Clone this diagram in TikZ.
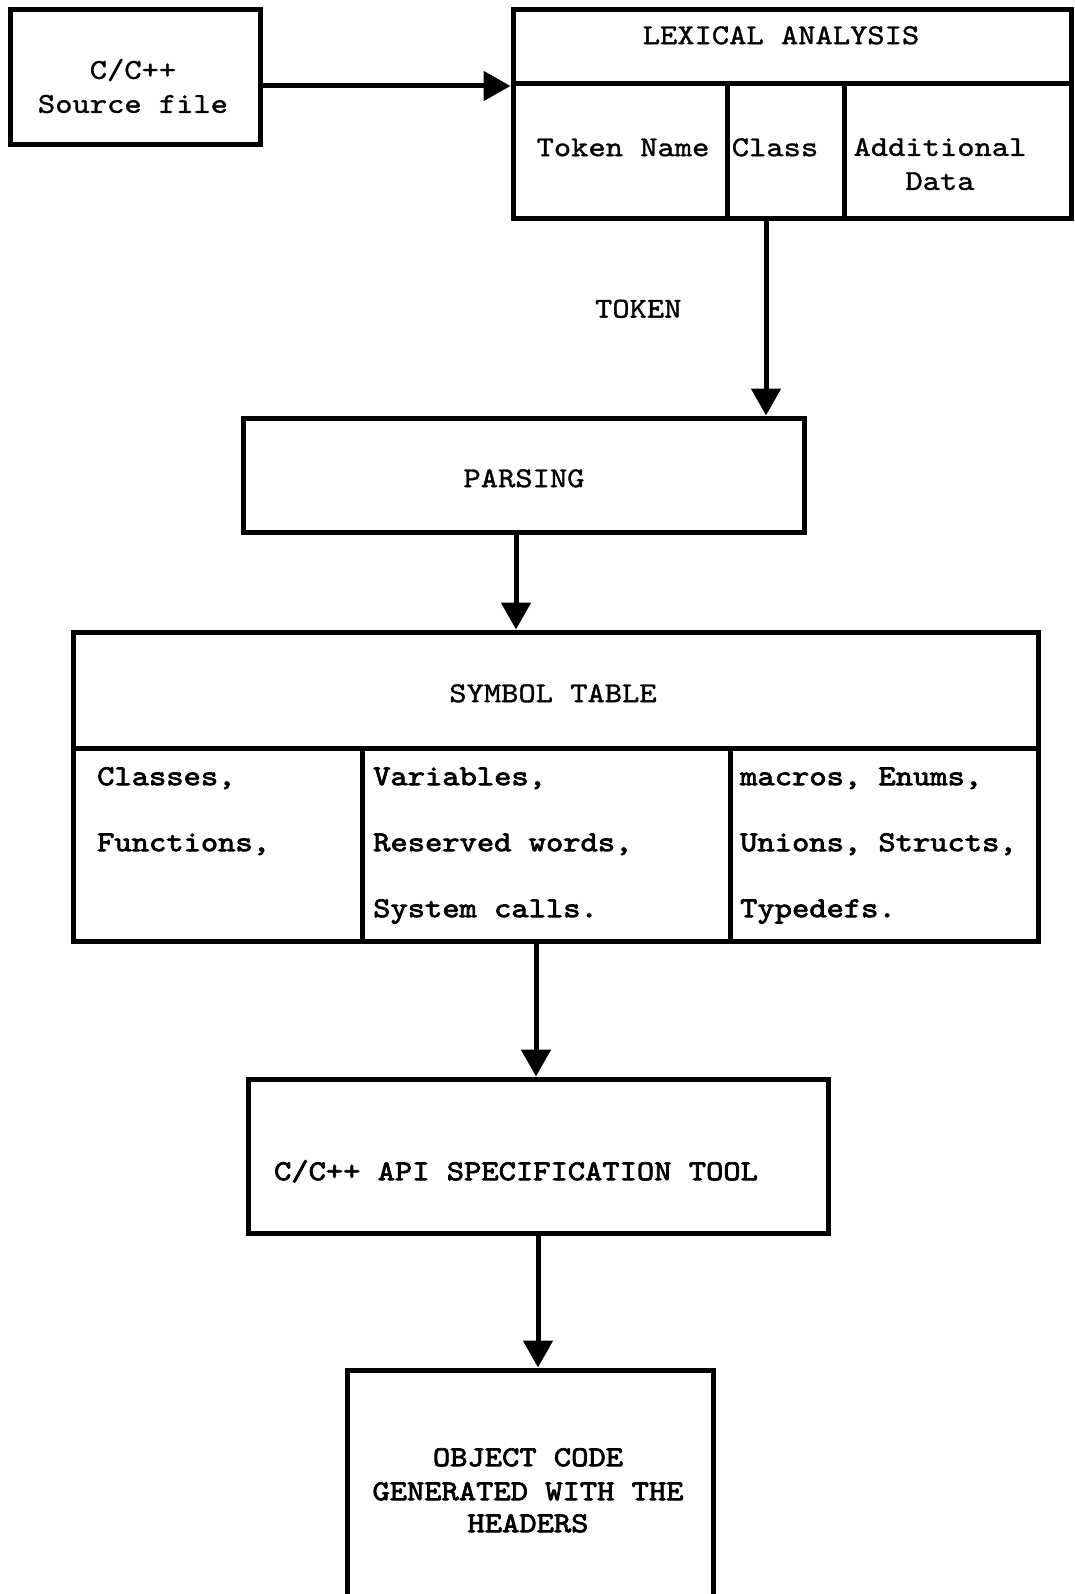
\documentclass[tikz,border=0pt]{standalone}
\usepackage{fontspec}
% typewriter face, widened to Courier proportions
\newfontfamily\courreg[FakeStretch=1.143,FakeBold=1.2]{lmmono10-regular.otf}
\newfontfamily\courbold[FakeStretch=1.143,FakeBold=2.6]{lmmono10-regular.otf}
\usetikzlibrary{arrows.meta}
\begin{document}
\begin{tikzpicture}[x=1pt,y=-1pt,
  box/.style={draw, line width=5pt, rectangle, inner sep=0pt},
  arr/.style={line width=5pt, -{Triangle[length=27pt,width=29pt]}},
  lbl/.style={font=\courreg\fontsize{28.8}{34}\selectfont, inner sep=0pt, anchor=mid},
  lblb/.style={lbl, font=\courbold\fontsize{28.8}{34}\selectfont},
  multi/.style={font=\courreg\fontsize{28.8}{34}\selectfont, inner sep=0pt, align=center}]
\path[use as bounding box, clip] (0,0) rectangle (1075,1594);
\fill[white] (0,0) rectangle (1075,1594);

% source file
\node[box, minimum width=250pt, minimum height=135pt] (src) at (135,77.5) {};
\node[multi] (srct) at (133,86) {C/C++\\Source file};

% lexical analysis table
\node[box, minimum width=558pt, minimum height=74pt] (lexhead) at (792,47) {};
\node[box, minimum width=214pt, minimum height=135pt] (lexname) at (620,151.5) {};
\node[box, minimum width=117pt, minimum height=135pt] (lexclass) at (785.5,151.5) {};
\node[box, minimum width=227pt, minimum height=135pt] (lexdata) at (957.5,151.5) {};
\node[lbl] (lext) at (781,42) {LEXICAL ANALYSIS};
\node[lbl] (namet) at (623,154) {Token Name};
\node[lbl] (classt) at (775,154) {Class};
\node[multi] (datat) at (940,164) {Additional\\Data};

% parsing
\node[box, minimum width=561pt, minimum height=114pt] (parse) at (523.5,475) {};
\node[lbl] (parset) at (524,485) {PARSING};

% symbol table
\node[box, minimum width=965pt, minimum height=116pt] (symhead) at (555.5,690) {};
\node[box, minimum width=289pt, minimum height=193pt] (sym1) at (217.5,844.5) {};
\node[box, minimum width=368pt, minimum height=193pt] (sym2) at (546,844.5) {};
\node[box, minimum width=308pt, minimum height=193pt] (sym3) at (884,844.5) {};
\node[lbl] (symt) at (553,700) {SYMBOL TABLE};
\node[lblb, anchor=mid west] (s11) at (97,783) {Classes,};
\node[lblb, anchor=mid west] (s12) at (97,849) {Functions,};
\node[lblb, anchor=mid west] (s21) at (373,783) {Variables,};
\node[lblb, anchor=mid west] (s22) at (373,849) {Reserved words,};
\node[lblb, anchor=mid west] (s23) at (373,915) {System calls.};
\node[lblb, anchor=mid west] (s31) at (740,783) {macros, Enums,};
\node[lblb, anchor=mid west] (s32) at (740,849) {Unions, Structs,};
\node[lblb, anchor=mid west] (s33) at (740,915) {Typedefs.};

% API specification tool
\node[box, minimum width=580pt, minimum height=154pt] (api) at (538,1156) {};
\node[lblb] (apit) at (516,1178) {C/C++ API SPECIFICATION TOOL};

% object code (box runs past the lower edge)
\node[box, minimum width=366pt, minimum height=270pt] (obj) at (530,1505) {};
\node[lblb] (o1) at (528,1464) {OBJECT CODE};
\node[lblb] (o2) at (528,1498) {GENERATED WITH THE};
\node[lblb] (o3) at (528,1530) {HEADERS};

% connectors
\draw[arr] ([yshift=-8.5pt]src.east) -- ([yshift=-8.5pt]src.east -| lexhead.west);
\draw[arr] ([xshift=-19.5pt]lexclass.south) -- ([xshift=-19.5pt]lexclass.south |- parse.north)
  node[lbl, pos=0.45, left=0pt, xshift=-82pt] (tok) {TOKEN};
\draw[arr] ([xshift=-7.5pt]parse.south) -- ([xshift=-7.5pt]parse.south |- symhead.north);
\draw[arr] ([xshift=-10pt]sym2.south) -- ([xshift=-10pt]sym2.south |- api.north);
\draw[arr] (api.south) -- (api.south |- obj.north);
\end{tikzpicture}
\end{document}
